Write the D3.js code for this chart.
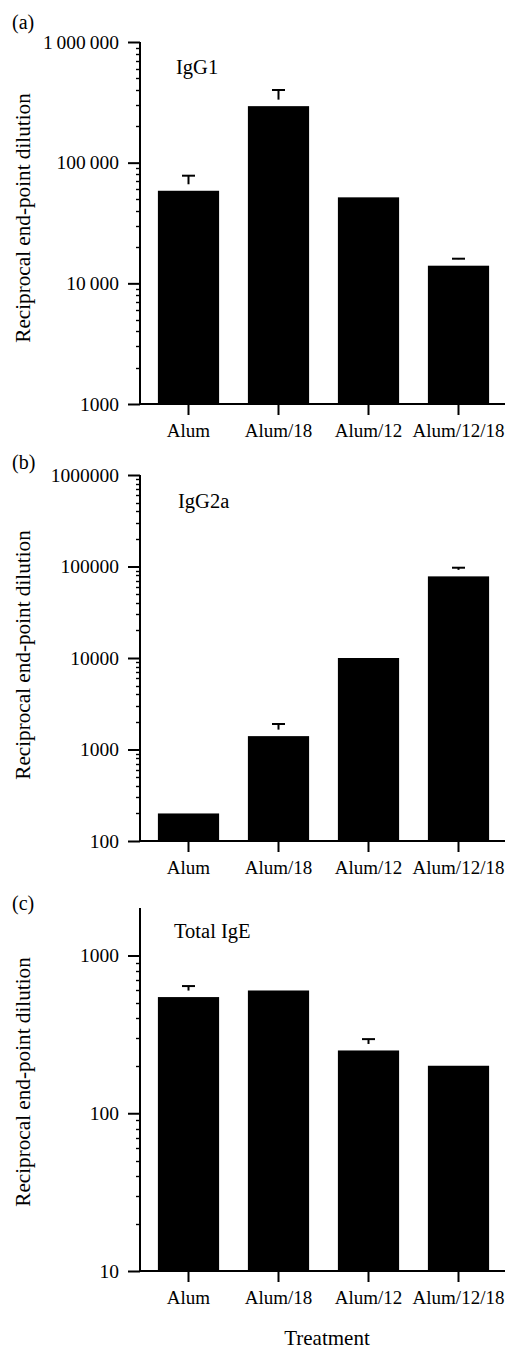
<!DOCTYPE html>
<html><head><meta charset="utf-8">
<script src="https://cdn.jsdelivr.net/npm/d3@7/dist/d3.min.js"></script>
<style>body{margin:0;background:#fff}svg{display:block}text{font-family:"Liberation Serif","Times New Roman",serif;fill:#000}</style>
</head><body>
<svg id="c" width="505" height="1349"></svg>
<script>
const categories = ["Alum", "Alum/18", "Alum/12", "Alum/12/18"];
const igg1Values = [58500, 294000, 51600, 14000];
const igg1Errors = [78000, 400000, null, 16000];
const igg2aValues = [200, 1400, 10000, 78000];
const igg2aErrors = [null, 1900, null, 97000];
const igeValues = [545, 600, 250, 200];
const igeErrors = [640, null, 295, null];
const igg1Ticks = [1000, 10000, 100000, 1000000];
const igg1TickLabels = ["1000", "10\u2009000", "100\u2009000", "1\u2009000\u2009000"];
const igg2aTicks = [100, 1000, 10000, 100000, 1000000];
const igg2aTickLabels = ["100", "1000", "10000", "100000", "1000000"];
const igeTicks = [10, 100, 1000];
const igeTickLabels = ["10", "100", "1000"];
const yTitle = "Reciprocal end-point dilution";
const xTitle = "Treatment";

const panels = [
  {tag:"(a)", name:"IgG1", values:igg1Values, errors:igg1Errors, ticks:igg1Ticks, labels:igg1TickLabels,
   domain:[1000,1e6], top:42, bottom:404, tagY:29, nameX:176, nameY:74, titleY:218, minorMax:1e6},
  {tag:"(b)", name:"IgG2a", values:igg2aValues, errors:igg2aErrors, ticks:igg2aTicks, labels:igg2aTickLabels,
   domain:[100,1e6], top:475, bottom:841, tagY:469, nameX:178, nameY:508, titleY:655, minorMax:1e6},
  {tag:"(c)", name:"Total IgE", values:igeValues, errors:igeErrors, ticks:igeTicks, labels:igeTickLabels,
   domain:[10,2000], top:908, bottom:1271, tagY:910, nameX:174, nameY:938, titleY:1082, minorMax:1000}
];

const svg = d3.select("#c");
const axisX = 140;
const font = '"Liberation Serif","Times New Roman",serif';
const x = d3.scaleBand().domain(categories).range([143.5, 503.5]).paddingInner(0.32).paddingOuter(0.16);

panels.forEach(p => {
  const g = svg.append("g");
  const y = d3.scaleLog().domain(p.domain).range([p.bottom, p.top]);
  // bars
  g.selectAll("rect.bar").data(categories).enter().append("rect")
    .attr("x", d => x(d)).attr("width", x.bandwidth())
    .attr("y", (d,i) => y(p.values[i])).attr("height", (d,i) => p.bottom - y(p.values[i]))
    .attr("fill", "#000");
  // error bars (stem stops short of the bar top, as in the original)
  const gap = 6.5;
  const eb = categories.map((c,i) => ({c, v:p.values[i], e:p.errors[i]})).filter(d => d.e);
  g.selectAll("line.stem").data(eb.filter(d => y(d.v) - gap > y(d.e))).enter().append("line")
    .attr("x1", d => x(d.c)+x.bandwidth()/2).attr("x2", d => x(d.c)+x.bandwidth()/2)
    .attr("y1", d => y(d.v) - gap).attr("y2", d => y(d.e)).attr("stroke","#000").attr("stroke-width",2);
  g.selectAll("line.cap").data(eb).enter().append("line")
    .attr("x1", d => x(d.c)+x.bandwidth()/2-6.5).attr("x2", d => x(d.c)+x.bandwidth()/2+6.5)
    .attr("y1", d => y(d.e)).attr("y2", d => y(d.e)).attr("stroke","#000").attr("stroke-width",2);
  // minor ticks
  const minor = [];
  let dec = p.domain[0];
  while (dec < p.minorMax) { for (let k=2;k<=9;k++){ const v=dec*k; if (v < p.minorMax) minor.push(v);} dec*=10; }
  g.selectAll("line.minor").data(minor).enter().append("line")
    .attr("x1", axisX-4).attr("x2", axisX).attr("y1", d => Math.round(y(d))+0.5).attr("y2", d => Math.round(y(d))+0.5)
    .attr("stroke","#000").attr("stroke-width",1.4);
  // y axis
  const yAxis = d3.axisLeft(y).tickValues(p.ticks).tickFormat((d,i) => p.labels[i]).tickSize(12).tickPadding(9);
  const ya = g.append("g").attr("transform", `translate(${axisX},0)`).call(yAxis);
  ya.select(".domain").attr("d", `M0,${p.top}V${p.bottom}`).attr("stroke-width",2);
  ya.selectAll(".tick line").attr("stroke-width",2);
  ya.selectAll("text").style("font-size","19.5px").style("font-family",font);
  // x axis
  const xAxis = d3.axisBottom(x).tickSize(11).tickPadding(9);
  const xa = g.append("g").attr("transform", `translate(0,${p.bottom})`).call(xAxis);
  xa.select(".domain").attr("d", `M${axisX},0H505`).attr("stroke-width",2);
  xa.selectAll(".tick line").attr("stroke-width",2);
  xa.selectAll("text").style("font-size","19px").style("font-family",font);
  // labels
  g.append("text").attr("x", 12).attr("y", p.tagY).style("font-size","20px").text(p.tag);
  g.append("text").attr("x", p.nameX).attr("y", p.nameY).style("font-size","20.5px").text(p.name);
  g.append("text").attr("transform", `translate(30,${p.titleY}) rotate(-90)`).attr("text-anchor","middle")
    .style("font-size","21.2px").text(yTitle);
});
svg.append("text").attr("x", 327).attr("y", 1345).attr("text-anchor","middle").style("font-size","21px").text(xTitle);
</script>
</body></html>
